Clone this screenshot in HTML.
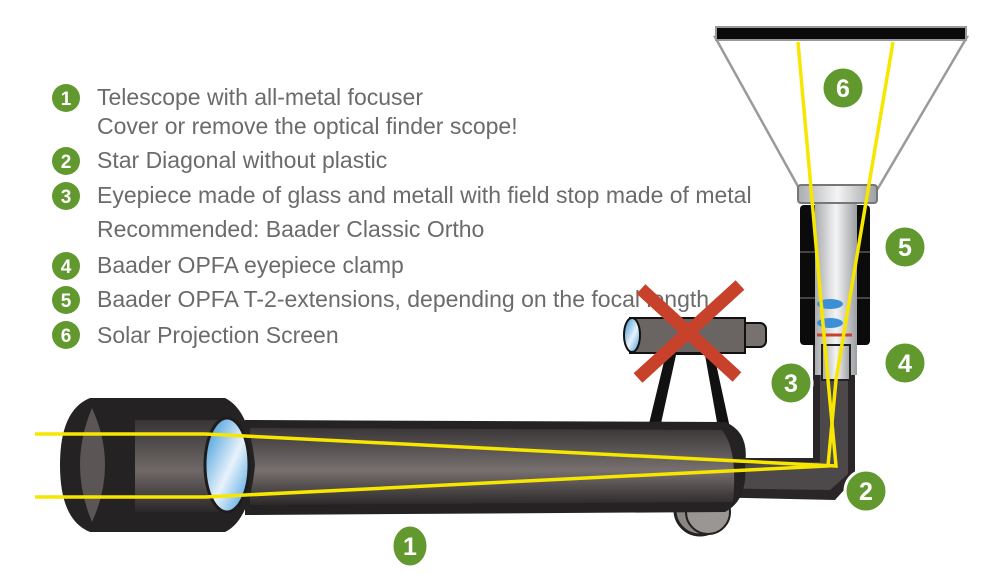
<!DOCTYPE html>
<html><head><style>
html,body{margin:0;padding:0;background:#fff;}
svg{display:block}
text{font-family:"Liberation Sans",sans-serif;}
</style></head><body>
<svg width="1000" height="584" viewBox="0 0 1000 584" xmlns="http://www.w3.org/2000/svg">
<defs>
<linearGradient id="tube" x1="0" y1="0" x2="0" y2="1">
<stop offset="0" stop-color="#3a3637"/><stop offset="0.55" stop-color="#77706f"/><stop offset="1" stop-color="#2c2829"/>
</linearGradient>
<linearGradient id="lens" x1="0" y1="0" x2="1" y2="1">
<stop offset="0" stop-color="#2b8fd6"/><stop offset="0.55" stop-color="#e8f2fb"/><stop offset="1" stop-color="#3a9ae0"/>
</linearGradient>
<linearGradient id="barrel" x1="0" y1="0" x2="1" y2="0">
<stop offset="0" stop-color="#a9abae"/><stop offset="0.5" stop-color="#f4f4f5"/><stop offset="1" stop-color="#9c9ea1"/>
</linearGradient>
</defs>
<g fill="#6b6b6b" font-size="23">
<text x="97" y="105">Telescope with all-metal focuser</text>
<text x="97" y="134">Cover or remove the optical finder scope!</text>
<text x="97" y="168">Star Diagonal without plastic</text>
<text x="97" y="203">Eyepiece made of glass and metall with field stop made of metal</text>
<text x="97" y="237">Recommended: Baader Classic Ortho</text>
<text x="97" y="273">Baader OPFA eyepiece clamp</text>
<text x="97" y="307">Baader OPFA T-2-extensions, depending on the focal length</text>
<text x="97" y="343">Solar Projection Screen</text>
</g>
<g fill="#62992f">
<circle cx="66" cy="98" r="14"/><circle cx="66" cy="161" r="14"/><circle cx="66" cy="196" r="14"/>
<circle cx="66" cy="266" r="14"/><circle cx="66" cy="300" r="14"/><circle cx="66" cy="335" r="14"/>
</g>
<g fill="#fff" font-size="19" font-weight="bold" text-anchor="middle">
<text x="66" y="105">1</text><text x="66" y="168">2</text><text x="66" y="203">3</text>
<text x="66" y="273">4</text><text x="66" y="307">5</text><text x="66" y="342">6</text>
</g>
<!-- screen -->
<polygon points="715,37 967,37 877,190 800,190" fill="#fff" stroke="#9a9a9a" stroke-width="2.5"/>
<rect x="716" y="27" width="250" height="13" fill="#0a0a0a" stroke="#999" stroke-width="2"/>
<!-- finder -->
<polygon points="668,345 648,428 660,428 676,355 705,355 718,428 730,428 712,345" fill="#111"/>
<rect x="728" y="323" width="38" height="24" rx="6" fill="#77716f" stroke="#111" stroke-width="2"/>
<rect x="630" y="318" width="115" height="35" fill="#6a6462" stroke="#111" stroke-width="2"/>
<ellipse cx="632" cy="335" rx="8" ry="17" fill="url(#lens)" stroke="#111" stroke-width="2"/>
<!-- focuser knob -->
<circle cx="700" cy="510" r="25" fill="#8a8684" stroke="#222" stroke-width="3"/>
<circle cx="708" cy="512" r="22" fill="#9a9694" stroke="#222" stroke-width="2"/>
<!-- diagonal -->
<path d="M700,458 L813,458 L813,345 L855,345 L855,478 L835,500 L700,497 Z" fill="#2a2627"/>
<path d="M700,466 L820,462 L820,352 L848,352 L848,474 L830,490 L700,488 Z" fill="#4d4849"/>
<!-- tube -->
<path d="M245,420 L725,422 Q750,432 745,465 Q748,500 725,512 L245,515 Z" fill="#252223"/>
<path d="M250,428 L722,430 Q738,450 733,502 L250,505 Z" fill="url(#tube)"/>
<!-- dew shield -->
<path d="M90,398 L225,398 Q250,410 255,465 Q250,520 225,532 L90,532 Q60,520 60,465 Q60,410 90,398 Z" fill="#252223"/>
<path d="M92,408 Q68,465 92,522 Q118,465 92,408 Z" fill="#5b5556"/>
<rect x="135" y="420" width="100" height="92" fill="url(#tube)" opacity="0.9"/>
<ellipse cx="227" cy="465" rx="22" ry="47" fill="url(#lens)" stroke="#1e1c1c" stroke-width="3"/>
<!-- eyepiece stack -->
<rect x="800" y="205" width="70" height="140" rx="4" fill="#0b0b0b"/>
<g stroke="#444" stroke-width="2"><line x1="800" y1="252" x2="870" y2="252"/><line x1="800" y1="298" x2="870" y2="298"/></g>
<rect x="815" y="200" width="42" height="175" fill="url(#barrel)"/>
<rect x="822" y="345" width="28" height="35" fill="url(#barrel)" stroke="#222" stroke-width="2"/>
<rect x="798" y="185" width="79" height="18" rx="3" fill="url(#barrel)" stroke="#777" stroke-width="2"/>
<ellipse cx="830" cy="304" rx="13" ry="5" fill="#3a8fd6"/>
<ellipse cx="830" cy="323" rx="13" ry="5" fill="#3a8fd6"/>
<line x1="817" y1="335" x2="852" y2="335" stroke="#c8412b" stroke-width="3"/>
<!-- rays -->
<g fill="none" stroke="#f7e600" stroke-width="3.5">
<polyline points="35,434 205,434 836,466 828,380 798,42"/>
<polyline points="35,497 205,497 828,466 836,380 893,42"/>
</g>
<!-- red X -->
<g stroke="#c8412b" stroke-width="13"><line x1="641" y1="289" x2="737" y2="377"/><line x1="740" y1="285" x2="638" y2="378"/></g>
<!-- callouts -->
<g fill="#62992f" stroke="#fff" stroke-width="3">
<ellipse cx="410" cy="546" rx="18" ry="21"/><circle cx="866" cy="491" r="21"/><circle cx="791" cy="383" r="21"/>
<circle cx="905" cy="363" r="21"/><circle cx="905" cy="247" r="21"/><circle cx="843" cy="88" r="21"/>
</g>
<g fill="#fff" font-size="25" font-weight="bold" text-anchor="middle">
<text x="410" y="555">1</text><text x="866" y="500">2</text><text x="791" y="392">3</text>
<text x="905" y="372">4</text><text x="905" y="256">5</text><text x="843" y="97">6</text>
</g>
</svg>
</body></html>
